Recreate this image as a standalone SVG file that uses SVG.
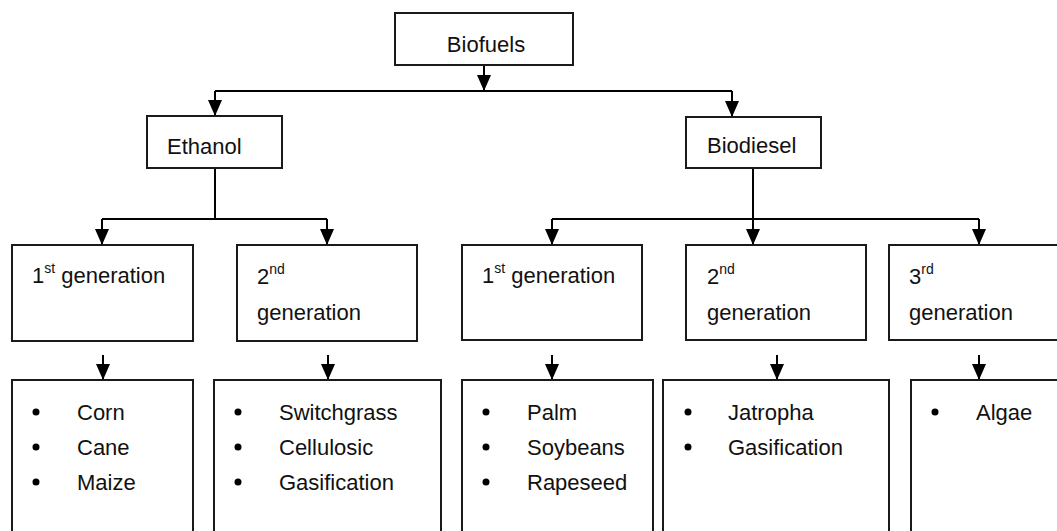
<svg xmlns="http://www.w3.org/2000/svg" width="1057" height="531" viewBox="0 0 1057 531">
<style>
.box{fill:#fff;stroke:#1a1a1a;stroke-width:2}
.ln{fill:none;stroke:#000;stroke-width:2}
.t{font-family:"Liberation Sans",Arial,sans-serif;font-size:22px;fill:#111}
.sup{font-size:14px}
.dot{fill:#000}
</style>
<defs>
<marker id="ah" viewBox="0 0 16 14" refX="16" refY="7" markerWidth="16" markerHeight="14" markerUnits="userSpaceOnUse" orient="auto">
<path d="M0,0 L16,7 L0,14 z" fill="#000"/>
</marker>
</defs>
<g id="connectors">
<path class="ln" d="M484,65 V91" marker-end="url(#ah)"/>
<path class="ln" d="M215,91 H732"/>
<path class="ln" d="M215,91 V116" marker-end="url(#ah)"/>
<path class="ln" d="M732,91 V117" marker-end="url(#ah)"/>
<path class="ln" d="M215,168 V219"/>
<path class="ln" d="M102,219 H327"/>
<path class="ln" d="M102,219 V245" marker-end="url(#ah)"/>
<path class="ln" d="M327,219 V245" marker-end="url(#ah)"/>
<path class="ln" d="M753,168 V245" marker-end="url(#ah)"/>
<path class="ln" d="M552,219 H979"/>
<path class="ln" d="M552,219 V245" marker-end="url(#ah)"/>
<path class="ln" d="M979,219 V245" marker-end="url(#ah)"/>
<path class="ln" d="M103,355 V380" marker-end="url(#ah)"/>
<path class="ln" d="M328,355 V380" marker-end="url(#ah)"/>
<path class="ln" d="M552,355 V380" marker-end="url(#ah)"/>
<path class="ln" d="M777,355 V380" marker-end="url(#ah)"/>
<path class="ln" d="M979,355 V380" marker-end="url(#ah)"/>
</g>
<g id="biofuels">
<rect class="box" x="395" y="13" width="178" height="52"/>
<text class="t" x="486" y="52" text-anchor="middle">Biofuels</text>
</g>
<g id="ethanol">
<rect class="box" x="147" y="116" width="135" height="52"/>
<text class="t" x="167" y="154">Ethanol</text>
</g>
<g id="biodiesel">
<rect class="box" x="686" y="117" width="135" height="51"/>
<text class="t" x="707" y="153">Biodiesel</text>
</g>
<g id="eth-gen1">
<rect class="box" x="12" y="245" width="181" height="96"/>
<text class="t" x="32" y="283">1<tspan class="sup" dy="-10">st</tspan><tspan dy="10"> generation</tspan></text>
</g>
<g id="eth-gen2">
<rect class="box" x="237" y="245" width="180" height="96"/>
<text class="t" x="257" y="284">2<tspan class="sup" dy="-10">nd</tspan></text>
<text class="t" x="257" y="320">generation</text>
</g>
<g id="bio-gen1">
<rect class="box" x="462" y="245" width="180" height="95"/>
<text class="t" x="482" y="283">1<tspan class="sup" dy="-10">st</tspan><tspan dy="10"> generation</tspan></text>
</g>
<g id="bio-gen2">
<rect class="box" x="686" y="245" width="180" height="95"/>
<text class="t" x="707" y="284">2<tspan class="sup" dy="-10">nd</tspan></text>
<text class="t" x="707" y="320">generation</text>
</g>
<g id="bio-gen3">
<rect class="box" x="889" y="245" width="200" height="95"/>
<text class="t" x="909" y="284">3<tspan class="sup" dy="-10">rd</tspan></text>
<text class="t" x="909" y="320">generation</text>
</g>
<g id="eth-list1">
<rect class="box" x="12" y="380" width="181" height="170"/>
<circle class="dot" cx="36" cy="412" r="3.5"/>
<circle class="dot" cx="36" cy="447" r="3.5"/>
<circle class="dot" cx="36" cy="482" r="3.5"/>
<text class="t" x="77" y="420">Corn</text>
<text class="t" x="77" y="455">Cane</text>
<text class="t" x="77" y="490">Maize</text>
</g>
<g id="eth-list2">
<rect class="box" x="214" y="380" width="227" height="170"/>
<circle class="dot" cx="238" cy="412" r="3.5"/>
<circle class="dot" cx="238" cy="447" r="3.5"/>
<circle class="dot" cx="238" cy="482" r="3.5"/>
<text class="t" x="279" y="420">Switchgrass</text>
<text class="t" x="279" y="455">Cellulosic</text>
<text class="t" x="279" y="490">Gasification</text>
</g>
<g id="bio-list1">
<rect class="box" x="462" y="380" width="191" height="170"/>
<circle class="dot" cx="486" cy="412" r="3.5"/>
<circle class="dot" cx="486" cy="447" r="3.5"/>
<circle class="dot" cx="486" cy="482" r="3.5"/>
<text class="t" x="527" y="420">Palm</text>
<text class="t" x="527" y="455">Soybeans</text>
<text class="t" x="527" y="490">Rapeseed</text>
</g>
<g id="bio-list2">
<rect class="box" x="663" y="380" width="226" height="170"/>
<circle class="dot" cx="688" cy="412" r="3.5"/>
<circle class="dot" cx="688" cy="447" r="3.5"/>
<text class="t" x="728" y="420">Jatropha</text>
<text class="t" x="728" y="455">Gasification</text>
</g>
<g id="bio-list3">
<rect class="box" x="911" y="380" width="170" height="170"/>
<circle class="dot" cx="935" cy="412" r="3.5"/>
<text class="t" x="976" y="420">Algae</text>
</g>
</svg>
